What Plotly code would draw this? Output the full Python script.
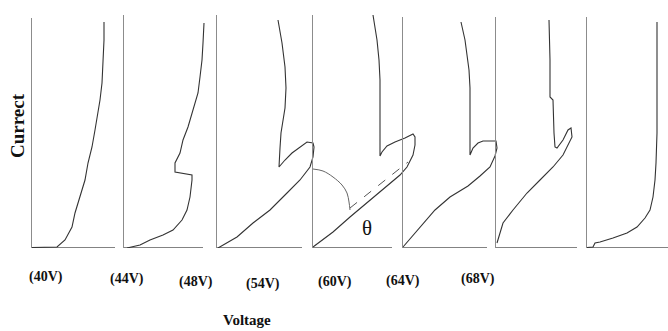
import plotly.graph_objects as go

# ---- data (voltage offset from each panel's axis, current in arbitrary units) ----
panel_labels = ["(40V)", "(44V)", "(48V)", "(54V)", "(60V)", "(64V)", "(68V)"]

v40 = [0, 25, 33, 40, 43, 48, 53, 56, 60, 63, 66, 68, 70, 71, 71, 72, 72]
i40 = [0.5, 1, 8, 21, 35, 51, 68, 85, 101, 118, 135, 148, 165, 181, 188, 208, 226]

v44 = [3, 16, 26, 39, 49, 58, 63, 66, 68, 68, 51, 51, 56, 59, 64, 69, 74, 76, 78, 79, 80]
i44 = [0, 3, 8, 13, 18, 28, 38, 51, 68, 73, 76, 85, 95, 108, 121, 138, 155, 171, 188, 205, 225]

v48 = [1, 20, 36, 53, 70, 83, 93, 96, 97, 96, 90, 83, 75, 68, 62, 63, 64, 68, 69, 68, 65, 61]
i48 = [0, 11, 25, 38, 55, 68, 81, 91, 101, 105, 106, 101, 95, 88, 81, 100, 115, 140, 160, 181, 205, 228]

v54 = [0, 20, 37, 54, 72, 87, 94, 100, 102, 102, 100, 92, 82, 74, 69, 67, 67, 66, 64, 62, 60]
i54 = [1, 16, 31, 45, 60, 73, 81, 93, 103, 111, 114, 110, 106, 102, 96, 92, 168, 188, 208, 223, 233]

v60 = [0, 8, 17, 32, 47, 65, 77, 87, 92, 94, 93, 80, 75, 70, 67, 67, 67, 66, 62, 58]
i60 = [1, 10, 21, 38, 51, 62, 72, 81, 92, 100, 107, 107, 105, 100, 93, 148, 160, 178, 208, 226]

v64 = [1, 7, 17, 31, 44, 57, 67, 72, 76, 75, 72, 67, 61, 59, 58, 57, 54, 54, 53]
i64 = [5, 25, 38, 55, 68, 81, 93, 103, 111, 120, 118, 108, 100, 101, 115, 148, 151, 188, 228]

v68 = [0, 6, 8, 13, 26, 40, 50, 58, 63, 66, 68, 69, 70, 70]
i68 = [0.5, 1, 5, 6, 10, 15, 21, 30, 38, 51, 68, 85, 115, 226]

# dashed reference line and angle arc on the 54V panel
dash54_v = [37, 95]
dash54_i = [40, 86]
arc54_v = [0, 10, 20, 29, 34, 36, 37]
arc54_i = [79, 77, 71, 63, 55, 46, 38]

curves_v = [v40, v44, v48, v54, v60, v64, v68]
curves_i = [i40, i44, i48, i54, i60, i64, i68]

# ---- layout geometry (pixels in a 668x331 page) ----
W, H = 668, 331
axis_px = [32, 124, 217, 313, 403, 496, 587]
span_px = [83, 85, 98, 104, 96, 82, 81]      # room for the curves
base_len = [83, 79, 85, 79, 84, 81, 81]      # length of the drawn voltage axis
top_px = [18, 15, 15, 15, 17, 17, 17]
base_px = 248
label_x = [46, 127, 196, 263, 335, 403, 478]
label_y = [277, 279, 282, 284, 282, 281, 279]

fig = go.Figure()
layout = dict(
    width=W, height=H, margin=dict(l=0, r=0, t=0, b=0),
    paper_bgcolor="white", plot_bgcolor="rgba(0,0,0,0)", showlegend=False,
)
shapes = []
annotations = []
curve_color = "#333333"

for k in range(7):
    n = k + 1
    xa = "x" if n == 1 else f"x{n}"
    ya = "y" if n == 1 else f"y{n}"
    xkey = "xaxis" if n == 1 else f"xaxis{n}"
    ykey = "yaxis" if n == 1 else f"yaxis{n}"
    x0 = axis_px[k] / W
    x1 = (axis_px[k] + span_px[k]) / W
    y0 = (H - base_px) / H
    y1 = (H - top_px[k]) / H
    layout[xkey] = dict(domain=[x0, x1], range=[0, span_px[k]], anchor=ya,
                        showgrid=False, zeroline=False, showticklabels=False,
                        ticks="", showline=False, fixedrange=True)
    layout[ykey] = dict(domain=[y0, y1], range=[0, base_px - top_px[k]], anchor=xa,
                        showgrid=False, zeroline=False, showticklabels=False,
                        ticks="", showline=True, linecolor="#8c8c8c", linewidth=1.2,
                        fixedrange=True)
    shapes.append(dict(type="line", xref=xa, yref=ya, x0=0, x1=base_len[k], y0=0, y1=0,
                       line=dict(color="#5a5a5a", width=1.6), layer="below"))
    fig.add_trace(go.Scatter(x=curves_v[k], y=curves_i[k], xaxis=xa, yaxis=ya,
                             mode="lines", line=dict(color=curve_color, width=1.1),
                             hoverinfo="skip"))
    annotations.append(dict(text=f"<b>{panel_labels[k]}</b>", xref="paper", yref="paper",
                            x=label_x[k] / W, y=1 - label_y[k] / H, showarrow=False,
                            font=dict(family="Liberation Serif", size=14, color="#111"),
                            xanchor="center", yanchor="middle"))

# angle illustration on the 54V panel
fig.add_trace(go.Scatter(x=dash54_v, y=dash54_i, xaxis="x4", yaxis="y4", mode="lines",
                         line=dict(color="#555555", width=1, dash="dash"), hoverinfo="skip"))
fig.add_trace(go.Scatter(x=arc54_v, y=arc54_i, xaxis="x4", yaxis="y4", mode="lines",
                         line=dict(color="#666666", width=1, shape="spline"), hoverinfo="skip"))
annotations.append(dict(text="θ", xref="x4", yref="y4", x=54, y=20, showarrow=False,
                        font=dict(family="Liberation Serif", size=21, color="#111"),
                        xanchor="center", yanchor="middle"))

annotations.append(dict(text="<b>Currect</b>", xref="paper", yref="paper",
                        x=18 / W, y=1 - 126 / H, showarrow=False, textangle=-90,
                        font=dict(family="Liberation Serif", size=19, color="#111"),
                        xanchor="center", yanchor="middle"))
annotations.append(dict(text="<b>Voltage</b>", xref="paper", yref="paper",
                        x=247 / W, y=1 - 320 / H, showarrow=False,
                        font=dict(family="Liberation Serif", size=15, color="#111"),
                        xanchor="center", yanchor="middle"))

layout["shapes"] = shapes
layout["annotations"] = annotations
fig.update_layout(**layout)
fig.write_html("out.html", config={"displayModeBar": False},
               post_script="document.body.style.margin='0';document.body.style.overflow='hidden';")
